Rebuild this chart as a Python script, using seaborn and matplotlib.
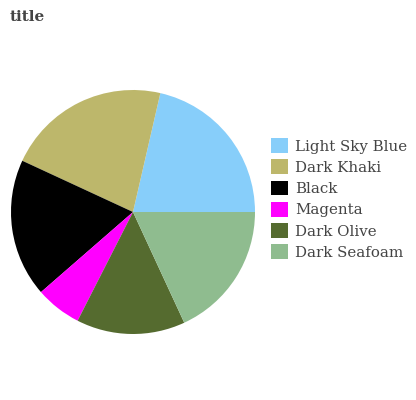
import matplotlib
matplotlib.use('Agg')
import seaborn as sns
from matplotlib import pyplot as plt
from matplotlib.patches import Patch

labels = ['Light Sky Blue', 'Dark Khaki', 'Black', 'Magenta', 'Dark Olive', 'Dark Seafoam']
values = [21.4, 21.7, 18.3, 6.1, 14.4, 18.1]
colors = ['#87CEFA', '#BDB76B', '#000000', '#FF00FF', '#556B2F', '#8FBC8F']

sns.set_theme(style='white')
plt.rcParams['font.family'] = ['DejaVu Serif']

fig = plt.figure(figsize=(4.16, 4.0), dpi=100)
ax = fig.add_axes([11 / 416, 66 / 400, 244 / 416, 244 / 400])
ax.pie(values, colors=colors, startangle=0, counterclock=True,
       wedgeprops={'linewidth': 0})
ax.set_xlim(-1, 1)
ax.set_ylim(-1, 1)
ax.set_aspect('equal')

fig.text(10 / 416, 1 - 17 / 400, 'title', va='center', ha='left',
         fontsize=11, fontweight='bold', color='#444444')

handles = [Patch(facecolor=c, edgecolor='none') for c in colors]
leg = fig.legend(handles, labels, loc='center left',
                 bbox_to_anchor=(271 / 416, 1 - 199 / 400),
                 frameon=False, borderpad=0, borderaxespad=0,
                 fontsize=10.8, handlelength=1.13, handleheight=1.13,
                 labelspacing=0.39, handletextpad=0.47)
for t in leg.get_texts():
    t.set_color('#444444')

fig.savefig('out.png', dpi=100)
